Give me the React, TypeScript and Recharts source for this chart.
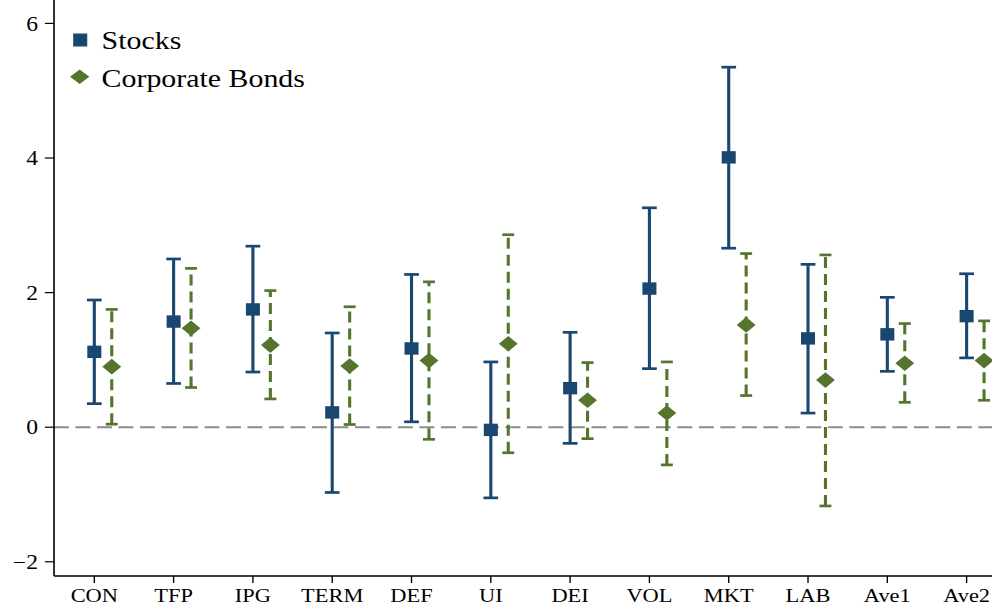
import React from 'react';
import { ComposedChart, Scatter, ErrorBar, XAxis, YAxis, ReferenceLine } from 'recharts';

const categories = ['CON', 'TFP', 'IPG', 'TERM', 'DEF', 'UI', 'DEI', 'VOL', 'MKT', 'LAB', 'Ave1', 'Ave2'];
const stockEst = [1.12, 1.57, 1.75, 0.22, 1.17, -0.04, 0.58, 2.06, 4.01, 1.32, 1.38, 1.65];
const stockLo = [0.35, 0.65, 0.82, -0.97, 0.08, -1.05, -0.24, 0.87, 2.66, 0.21, 0.83, 1.03];
const stockHi = [1.89, 2.5, 2.69, 1.4, 2.27, 0.97, 1.41, 3.26, 5.35, 2.42, 1.93, 2.28];
const bondEst = [0.9, 1.47, 1.22, 0.91, 0.99, 1.24, 0.4, 0.21, 1.52, 0.7, 0.95, 0.99];
const bondLo = [0.045, 0.59, 0.42, 0.04, -0.18, -0.38, -0.17, -0.56, 0.47, -1.17, 0.37, 0.4];
const bondHi = [1.75, 2.36, 2.03, 1.79, 2.16, 2.86, 0.96, 0.97, 2.58, 2.56, 1.54, 1.58];
const yTicks = [-2, 0, 2, 4, 6];
const xTicks = categories.map((_, i) => i + 1);
const seriesNames = ['Stocks', 'Corporate Bonds'];

const BOND_OFFSET = 0.22;
const NAVY = '#1a476f';
const GREEN = '#55752f';
const FONT = '"Liberation Serif", "Times New Roman", serif';

const stockData = categories.map((c, i) => ({
  x: i + 1,
  y: stockEst[i],
  err: [stockEst[i] - stockLo[i], stockHi[i] - stockEst[i]],
}));
const bondData = categories.map((c, i) => ({
  x: i + 1 + BOND_OFFSET,
  y: bondEst[i],
  err: [bondEst[i] - bondLo[i], bondHi[i] - bondEst[i]],
}));

const SquareShape = (props: any) => {
  const { cx, cy } = props;
  if (cx == null || cy == null) return null;
  return <rect x={cx - 6.1} y={cy - 6.2} width={12.2} height={12.4} fill={NAVY} />;
};

const DiamondShape = (props: any) => {
  const { cx, cy } = props;
  if (cx == null || cy == null) return null;
  const w = 8.2;
  const h = 7.8;
  return <polygon points={`${cx},${cy - h} ${cx + w},${cy} ${cx},${cy + h} ${cx - w},${cy}`} fill={GREEN} />;
};

const LegendOverlay = () => (
  <svg width={320} height={100} style={{ position: 'absolute', left: 0, top: 0, display: 'block', pointerEvents: 'none' }}>
    <rect x={63.7} y={33.5} width={12.2} height={13} fill={NAVY} />
    <polygon points={`69.3,69.4 77.7,76.7 69.3,84 60.9,76.7`} fill={GREEN} />
    <text x={88.4} y={49.3} fontFamily={FONT} fontSize={26} fill="#000">{seriesNames[0]}</text>
    <text x={88.4} y={86.7} fontFamily={FONT} fontSize={26} fill="#000">{seriesNames[1]}</text>
  </svg>
);

const W = 863;
const H = 607;
const SX = 992 / W;

export default function App() {
  return (
    <div style={{ position: 'absolute', left: 0, top: 0, width: 992, height: 607, overflow: 'hidden', background: '#fff' }}>
      <div style={{ position: 'relative', width: W, height: H, transform: `scaleX(${SX})`, transformOrigin: '0 0' }}>
        <ComposedChart width={W} height={H} margin={{ top: 0, right: 0, bottom: 0, left: 0 }}>
          <XAxis
            type="number"
            dataKey="x"
            domain={[0.492, 12.32]}
            ticks={xTicks}
            interval={0}
            allowDataOverflow
            tickFormatter={(v: number) => categories[Math.round(v) - 1] ?? ''}
            height={31}
            tickSize={7}
            tickMargin={5}
            axisLine={{ stroke: '#000', strokeWidth: 1.4 }}
            tickLine={{ stroke: '#000', strokeWidth: 1.2 }}
            tick={{ fill: '#000', fontSize: 19.5, fontFamily: FONT }}
          />
          <YAxis
            type="number"
            dataKey="y"
            domain={[-2.211, 6.348]}
            ticks={yTicks}
            interval={0}
            allowDataOverflow
            width={47}
            tickSize={8}
            tickMargin={6}
            tickFormatter={(v: number) => (v < 0 ? `\u2212${Math.abs(v)}` : `${v}`)}
            axisLine={{ stroke: '#000', strokeWidth: 1.4 }}
            tickLine={{ stroke: '#000', strokeWidth: 1.2 }}
            tick={{ fill: '#000', fontSize: 20.5, fontFamily: FONT }}
          />
          <ReferenceLine y={0} stroke="#8c8c8c" strokeWidth={2} strokeDasharray="13 5.7" />
          <Scatter name={seriesNames[0]} data={stockData} fill={NAVY} shape={SquareShape} isAnimationActive={false}>
            <ErrorBar dataKey="err" direction="y" width={6.4} stroke={NAVY} strokeWidth={2.7} isAnimationActive={false} />
          </Scatter>
          <Scatter name={seriesNames[1]} data={bondData} fill={GREEN} shape={DiamondShape} isAnimationActive={false}>
            <ErrorBar dataKey="err" direction="y" width={5.2} stroke={GREEN} strokeWidth={2.7} strokeDasharray="11 6" isAnimationActive={false} />
          </Scatter>
        </ComposedChart>
        <LegendOverlay />
      </div>
    </div>
  );
}
